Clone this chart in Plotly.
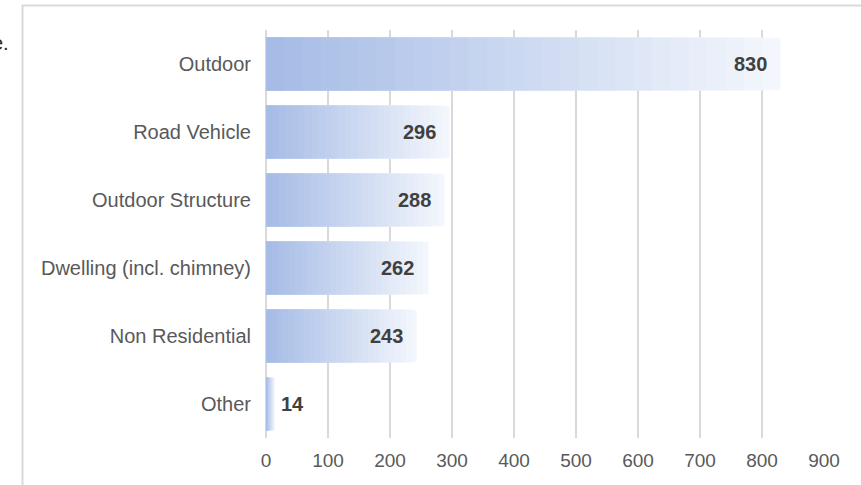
import plotly.graph_objects as go

categories = ["Outdoor", "Road Vehicle", "Outdoor Structure",
              "Dwelling (incl. chimney)", "Non Residential", "Other"]
values = [830, 296, 288, 262, 243, 14]
x_ticks = [0, 100, 200, 300, 400, 500, 600, 700, 800, 900]

FONT = "Liberation Sans, Arial, sans-serif"
GRID = "#d9d9d9"

# gradient look: overlay progressively shorter bars from light to dark
N = 28
dark = (166, 188, 230)
light = (243, 246, 252)


def lerp(a, b, t):
    return "rgb(%d,%d,%d)" % tuple(round(a[i] + (b[i] - a[i]) * t) for i in range(3))


fig = go.Figure()
for k in range(N):
    frac = (N - k) / N
    t = k / (N - 1)
    fig.add_trace(go.Bar(
        x=[v * frac for v in values], y=categories, orientation="h",
        marker=dict(color=lerp(light, dark, t), line=dict(width=0)),
        width=0.77, hoverinfo="skip", showlegend=False,
    ))

annotations = []
for c, v in zip(categories, values):
    inside = v > 100
    annotations.append(dict(
        x=v, y=c, xref="x", yref="y", text=str(v), showarrow=False,
        xanchor="right" if inside else "left", xshift=-12 if inside else 4,
        font=dict(family=FONT, size=20, color="#404040", weight="bold"),
    ))

annotations.append(dict(
    x=-0.4570, y=0.9680, xref="paper", yref="paper", text="e.", showarrow=False,
    xanchor="right", yanchor="middle", font=dict(family=FONT, size=20, color="#222222"),
))

fig.update_layout(
    width=861, height=485,
    margin=dict(l=266, r=37, t=30, b=47),
    paper_bgcolor="white", plot_bgcolor="white",
    barmode="overlay",
    annotations=annotations,
    shapes=[dict(type="rect", xref="paper", yref="paper",
                 x0=-0.4364, x1=1.5, y0=-0.5, y1=1.0600,
                 line=dict(color=GRID, width=2), fillcolor="rgba(0,0,0,0)", layer="below")],
    xaxis=dict(range=[0, 900], tickvals=x_ticks, showgrid=True, gridcolor=GRID, gridwidth=2,
               zeroline=True, zerolinecolor=GRID, zerolinewidth=2, showline=False,
               tickfont=dict(family=FONT, size=19, color="#595959"), ticks="",
               ticklabelstandoff=9, fixedrange=True),
    yaxis=dict(categoryorder="array", categoryarray=categories, autorange="reversed",
               showgrid=False, zeroline=False, showline=False, ticks="",
               tickfont=dict(family=FONT, size=20, color="#595959"),
               ticklabelstandoff=14, fixedrange=True),
)

fig.write_html("out.html")
